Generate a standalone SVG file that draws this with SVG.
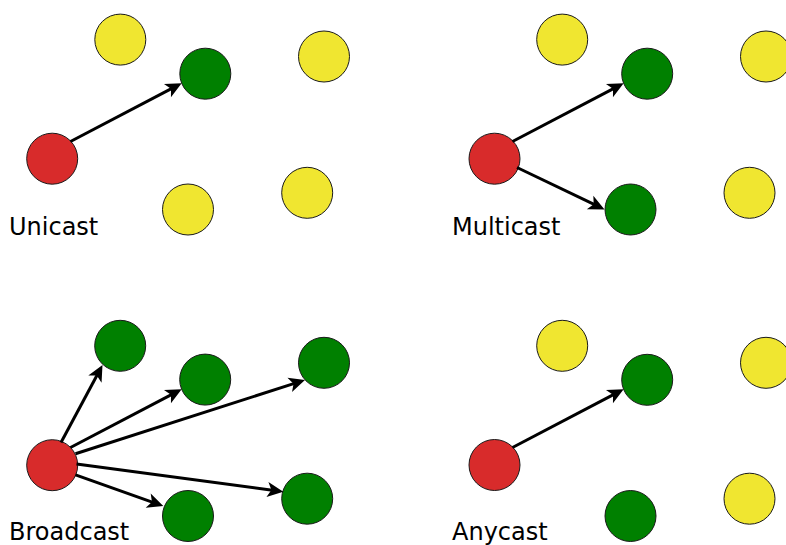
<svg xmlns="http://www.w3.org/2000/svg" width="786" height="545" viewBox="0 0 786 545">
  <style>
    .node { stroke: #1a1a1a; stroke-width: 1; }
    .src { fill: #d82b2b; }
    .dst { fill: #008000; }
    .idle { fill: #f0e630; }
    .link { stroke: #000; stroke-width: 3; fill: none; marker-end: url(#head); }
    .label { font-family: "DejaVu Sans", "Liberation Sans", sans-serif; font-size: 24px; fill: #000; }
  </style>
  <defs>
    <marker id="head" markerUnits="userSpaceOnUse" orient="auto" refX="0" refY="0" markerWidth="16" markerHeight="16" overflow="visible">
      <path d="M11,0 L-5,-7.5 L-1,0 L-5,7.5 Z" fill="#000"/>
    </marker>
  </defs>
  <rect width="786" height="545" fill="#fff"/>

  <!-- Unicast -->
  <g id="unicast">
    <circle id="u-y1" class="node idle" cx="120.3" cy="39.6" r="25.5"/>
    <circle id="u-g1" class="node dst" cx="205.3" cy="73.7" r="25.5"/>
    <circle id="u-y2" class="node idle" cx="324" cy="56.5" r="25.5"/>
    <circle id="u-src" class="node src" cx="52.2" cy="158.7" r="25.5"/>
    <circle id="u-y3" class="node idle" cx="188" cy="209.5" r="25.5"/>
    <circle id="u-y4" class="node idle" cx="307.2" cy="192.8" r="25.5"/>
    <text class="label" x="9" y="235">Unicast</text>
  </g>

  <!-- Multicast -->
  <g id="multicast">
    <circle id="m-y1" class="node idle" cx="562.2" cy="39.6" r="25.5"/>
    <circle id="m-g1" class="node dst" cx="647.2" cy="73.7" r="25.5"/>
    <circle id="m-y2" class="node idle" cx="766" cy="56.5" r="25.5"/>
    <circle id="m-src" class="node src" cx="494.5" cy="158.7" r="25.5"/>
    <circle id="m-g2" class="node dst" cx="630.5" cy="209.5" r="25.5"/>
    <circle id="m-y3" class="node idle" cx="749.5" cy="192.8" r="25.5"/>
    <text class="label" x="452" y="235">Multicast</text>
  </g>

  <!-- Broadcast -->
  <g id="broadcast">
    <circle id="b-g1" class="node dst" cx="120.2" cy="345.8" r="25.5"/>
    <circle id="b-g2" class="node dst" cx="205.2" cy="379.6" r="25.5"/>
    <circle id="b-g3" class="node dst" cx="324" cy="362.8" r="25.5"/>
    <circle id="b-src" class="node src" cx="52.2" cy="465.2" r="25.5"/>
    <circle id="b-g4" class="node dst" cx="188" cy="516" r="25.5"/>
    <circle id="b-g5" class="node dst" cx="307.2" cy="498.7" r="25.5"/>
    <text class="label" x="9" y="539.5">Broadcast</text>
  </g>

  <!-- Anycast -->
  <g id="anycast">
    <circle id="a-y1" class="node idle" cx="562.2" cy="345.8" r="25.5"/>
    <circle id="a-g1" class="node dst" cx="647.2" cy="379.8" r="25.5"/>
    <circle id="a-y2" class="node idle" cx="766" cy="362.8" r="25.5"/>
    <circle id="a-src" class="node src" cx="494.5" cy="465" r="25.5"/>
    <circle id="a-g2" class="node dst" cx="630.5" cy="516" r="25.5"/>
    <circle id="a-y3" class="node idle" cx="749.5" cy="498.7" r="25.5"/>
    <text class="label" x="452" y="539.5">Anycast</text>
  </g>

  <!-- Connectors: each line stops where the arrowhead notch sits -->
  <g id="connectors">
    <line class="link" x1="70.5" y1="141.5" x2="171.9" y2="88.3"/>
    <line class="link" x1="512.5" y1="141.5" x2="613.9" y2="88.3"/>
    <line class="link" x1="517" y1="167.5" x2="594.6" y2="204.7"/>
    <line class="link" x1="61" y1="442.5" x2="97.3" y2="374.7"/>
    <line class="link" x1="70.5" y1="447.5" x2="171.9" y2="394.3"/>
    <line class="link" x1="75.5" y1="453.7" x2="294.5" y2="383.4"/>
    <line class="link" x1="76.5" y1="463.9" x2="272.4" y2="490.2"/>
    <line class="link" x1="75.5" y1="474.8" x2="152.9" y2="502.3"/>
    <line class="link" x1="512.5" y1="447.5" x2="613.9" y2="394.3"/>
  </g>
</svg>
